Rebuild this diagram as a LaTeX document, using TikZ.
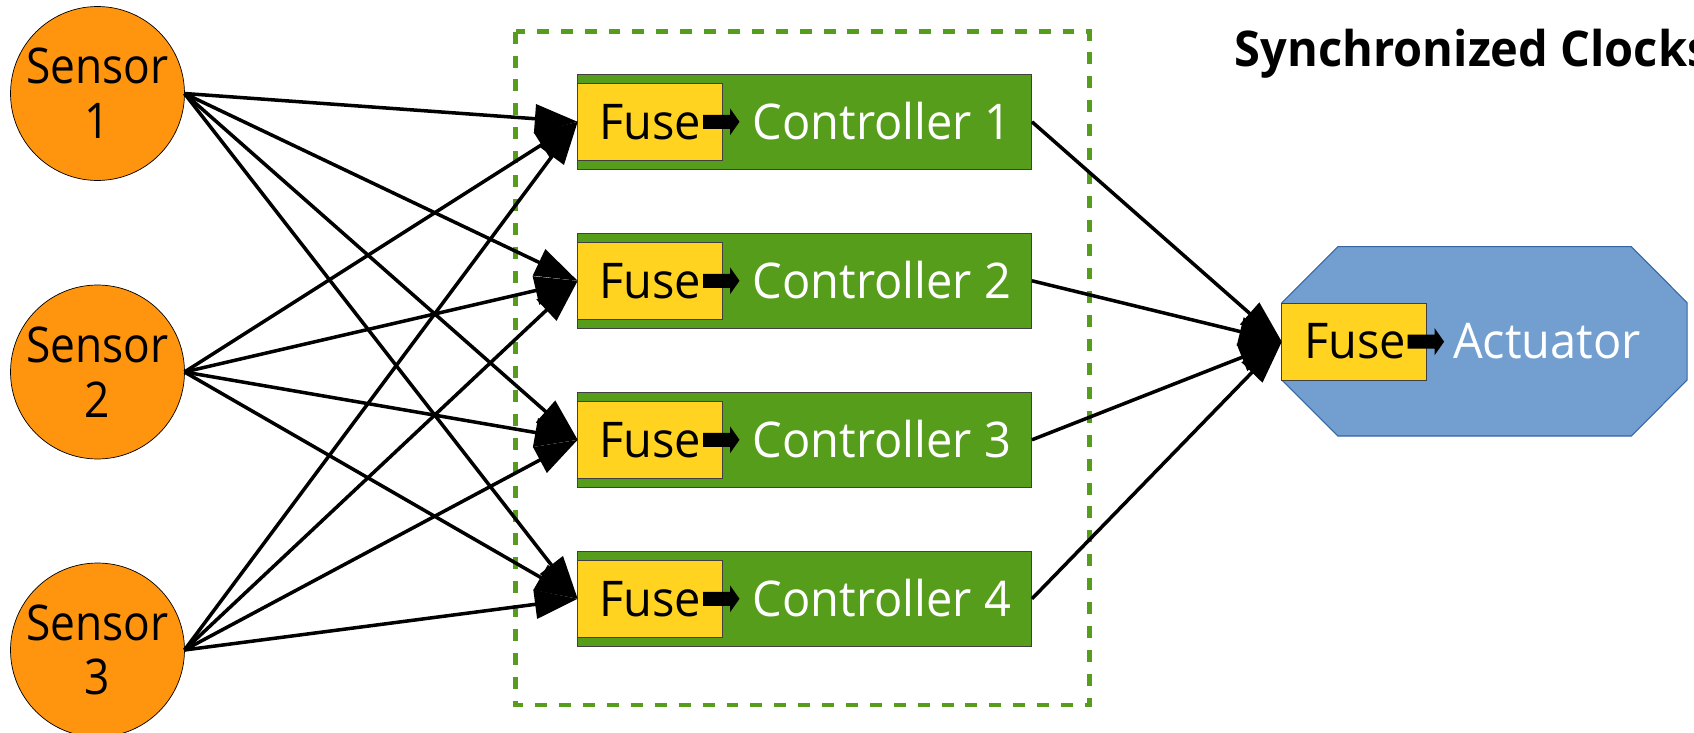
\documentclass[tikz,border=0pt]{standalone}
\usepackage{fontspec}
\setmainfont{Open Sans}[FakeStretch=0.955]
\newfontfamily\sensorfont{Open Sans}[FakeStretch=0.9]
\usetikzlibrary{arrows.meta}
\definecolor{sorange}{HTML}{FF950E}
\definecolor{cgreen}{HTML}{579D1C}
\definecolor{fyellow}{HTML}{FFD320}
\definecolor{ablue}{HTML}{729FCF}
\definecolor{ablueline}{HTML}{3465A4}
\begin{document}
\begin{tikzpicture}[x=0.02cm,y=-0.02cm,
  sensor/.style={circle, draw=black, line width=0.4pt, fill=sorange, minimum size=3.48cm, inner sep=0, outer sep=0, align=center, font=\sensorfont\fontsize{28}{31.2}\selectfont},
  ctrl/.style={rectangle, draw=black!75, line width=0.6pt, fill=cgreen, minimum width=9.086cm, minimum height=1.9cm, inner sep=0, outer sep=0},
  fuse/.style={rectangle, draw=black!75, line width=0.6pt, fill=fyellow, minimum width=2.892cm, minimum height=1.532cm, inner sep=0, outer sep=0},
  lbl/.style={inner sep=0, anchor=base, font=\fontsize{28}{31}\selectfont},
  wire/.style={line width=2pt, -{Triangle[length=24.4pt,width=16.2pt]}},
  barrow/.pic={\fill[black] (0,-7) -- (27,-7) -- (27,-13.5) -- (36.5,0) -- (27,13.5) -- (27,7) -- (0,7) -- cycle;}
]
\useasboundingbox (0,0) rectangle (1694,733);
\clip (0,0) rectangle (1694,733);

% dashed group box
\draw[cgreen, line width=2.8pt, dash pattern=on 6.8pt off 6.8pt] (515.7,31.7) rectangle (1089.5,705);

% sensors
\node[sensor] (s1) at (97.5,93.5) {Sensor\\1};
\node[sensor] (s2) at (97.5,372) {Sensor\\2};
\node[sensor] (s3) at (97.5,650) {Sensor\\3};

% controllers
\foreach \i/\y in {1/121.8, 2/280.8, 3/439.8, 4/598.8} {
  \node[ctrl] (c\i) at (804.85,\y) {};
  \node[fuse] (f\i) at (650,\y) {};
  \node[lbl] (ft\i) at (650,\y+17.5) {Fuse};
  \pic at (703,\y) {barrow};
  \node[lbl, text=white] (ct\i) at (882,\y+17.5) {Controller \i};
}

% actuator
\fill[ablue, draw=ablueline, line width=0.6pt] (1281.8,302.7) -- (1337.9,246.7) -- (1631.4,246.7) -- (1687.1,302.7) -- (1687.1,380) -- (1631.4,436) -- (1337.9,436) -- (1281.8,380) -- cycle;
\node[fuse, minimum width=2.894cm, minimum height=1.534cm] (af) at (1354.15,341.7) {};
\node[lbl] (aft) at (1355,358.3) {Fuse};
\pic at (1407.6,341.7) {barrow};
\node[lbl, text=white] (at) at (1547,358.3) {Actuator};

% title
\node[lbl, anchor=base west, font=\bfseries\fontsize{28}{31}\selectfont] (title) at (1234.5,66.7) {Synchronized Clocks};

% wires
\foreach \s in {1,2,3} {
  \foreach \c in {1,2,3,4} {
    \draw[wire] (s\s.east) -- (f\c.west);
  }
}
\foreach \c in {1,2,3,4} {
  \draw[wire] (c\c.east) -- (af.west);
}
\end{tikzpicture}
\end{document}
